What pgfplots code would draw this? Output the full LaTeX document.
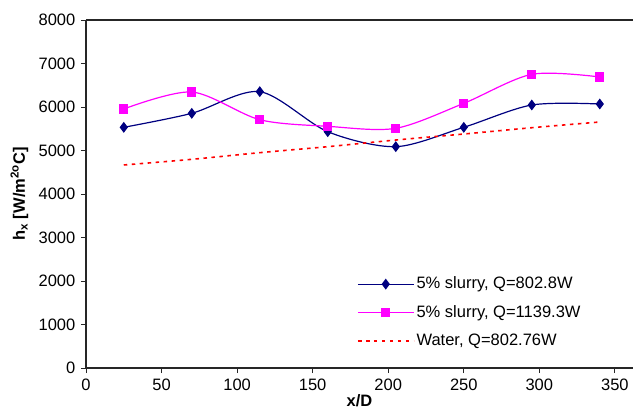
\documentclass[border=0pt]{standalone}
\usepackage{fontspec}
\setmainfont{Liberation Sans}
\usepackage{pgfplots}
\pgfplotsset{compat=1.18}

\definecolor{navyline}{RGB}{0,0,128}
\definecolor{pinkline}{RGB}{255,0,255}
\definecolor{waterline}{RGB}{255,0,0}

\begin{document}
\fontsize{16.5bp}{19bp}\selectfont
\begin{tikzpicture}
\begin{axis}[
  at={(0,0)}, anchor=south west,
  scale only axis,
  width=547bp, height=348bp,
  xmin=0, xmax=362, ymin=0, ymax=8000,
  axis x line=box, axis y line=left,
  axis line style={-, line width=1.2bp, black!85},
  xtick={0,50,...,350}, ytick={0,1000,...,8000},
  xtick pos=bottom, ytick pos=left,
  tick align=outside,
  major tick length=5bp,
  tick style={line width=0.8bp, black!85},
  /pgf/number format/assume math mode=true,
  /pgf/number format/set thousands separator={},
  ticklabel style={font=\fontsize{16.5bp}{19bp}\selectfont},
  xlabel={\textbf{x/D}},
  ylabel={\textbf{h\textsubscript{x} [W/m\textsuperscript{2o}C]}},
  label style={font=\fontsize{16.5bp}{19bp}\selectfont},
  xlabel style={yshift=7bp},
  ylabel style={yshift=-1bp},
  legend cell align=left,
  legend style={draw=none, fill=none, at={(0.495,0.16)}, anchor=west,
    inner sep=0pt, row sep=10bp,
    font=\fontsize{16.5bp}{19bp}\selectfont},
  legend image code/.code={%
    \draw[mark repeat=2,mark phase=2] plot coordinates {(0bp,0bp) (28bp,0bp) (56bp,0bp)};},
]
% 5% slurry at Q = 802.8 W
\addplot[navyline, line width=1.2bp, smooth, mark=diamond*, mark size=4.5bp,
  mark options={solid, fill=navyline}]
  coordinates {(25,5533) (70,5855) (115,6352) (160,5432) (205,5088) (250,5533) (295,6046) (340,6069)};
\addlegendentry{5\% slurry, Q=802.8W}
% 5% slurry at Q = 1139.3 W
\addplot[pinkline, line width=1.2bp, smooth, mark=square*, mark size=4bp,
  mark options={solid, fill=pinkline}]
  coordinates {(25,5954) (70,6345) (115,5708) (160,5556) (205,5510) (250,6084) (295,6751) (340,6690)};
\addlegendentry{5\% slurry, Q=1139.3W}
% Water at Q = 802.76 W
\addplot[waterline, line width=1.6bp, dash pattern=on 3.5bp off 4.5bp, smooth, mark=none]
  coordinates {(25,4667) (70,4797) (115,4950) (160,5088) (205,5241) (250,5379) (295,5524) (340,5655)};
\addlegendentry{Water, Q=802.76W}
\end{axis}
\pgfresetboundingbox
\path (-86bp,-52bp) rectangle (547bp,368bp);
\end{tikzpicture}
\end{document}
